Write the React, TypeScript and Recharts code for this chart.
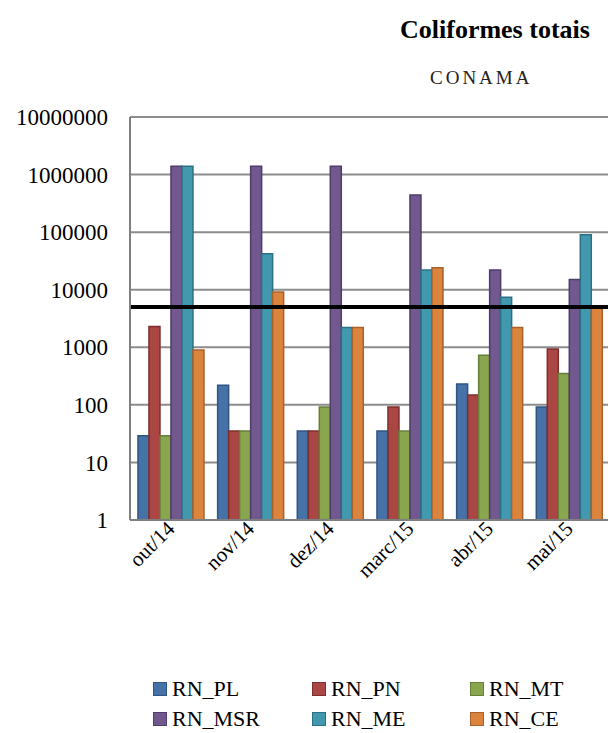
import { BarChart, Bar, XAxis, YAxis, CartesianGrid, ReferenceLine, Legend } from "recharts";

const months = ["out/14", "nov/14", "dez/14", "marc/15", "abr/15", "mai/15"];
const rnPL = [29, 220, 35, 35, 230, 92];
const rnPN = [2300, 35, 35, 92, 148, 930];
const rnMT = [29, 35, 92, 35, 730, 350];
const rnMSR = [1400000, 1400000, 1400000, 440000, 22000, 15000];
const rnME = [1400000, 42000, 2200, 22000, 7400, 90000];
const rnCE = [900, 9100, 2200, 24000, 2200, 4900];
const conamaLimit = 5000;
const yTicks = [1, 10, 100, 1000, 10000, 100000, 1000000, 10000000];

const series = [
  { key: "RN_PL", fill: "#4672A8", stroke: "#2F5583" },
  { key: "RN_PN", fill: "#AA4643", stroke: "#7E2F2D" },
  { key: "RN_MT", fill: "#89A54E", stroke: "#66803A" },
  { key: "RN_MSR", fill: "#71588F", stroke: "#4F3D69" },
  { key: "RN_ME", fill: "#4198AF", stroke: "#2C7083" },
  { key: "RN_CE", fill: "#DB843D", stroke: "#A9612A" },
];

const data = months.map((m, i) => ({
  month: m,
  RN_PL: rnPL[i],
  RN_PN: rnPN[i],
  RN_MT: rnMT[i],
  RN_MSR: rnMSR[i],
  RN_ME: rnME[i],
  RN_CE: rnCE[i],
}));

const FONT = "'Liberation Serif', 'DejaVu Serif', serif";

const MonthTick = ({ x, y, payload }: any) => (
  <text
    x={x + 6}
    y={y + 2}
    transform={`rotate(-45, ${x + 6}, ${y + 2})`}
    textAnchor="end"
    fontFamily={FONT}
    fontSize={21}
    fill="#000"
  >
    {payload.value}
  </text>
);

const LegendBox = () => (
  <div
    style={{
      display: "grid",
      gridTemplateColumns: "159px 158px 140px",
      fontFamily: FONT,
      fontSize: 22,
      color: "#000",
      paddingLeft: 153,
    }}
  >
    {series.map((s) => (
      <div key={s.key} style={{ display: "flex", alignItems: "center", height: 30 }}>
        <span
          style={{
            width: 12,
            height: 12,
            background: s.fill,
            border: `1px solid ${s.stroke}`,
            marginRight: 5,
            display: "inline-block",
          }}
        />
        {s.key}
      </div>
    ))}
  </div>
);

export default function App() {
  return (
    <div style={{ position: "absolute", left: 0, top: 0, width: 609, height: 733, background: "#fff" }}>
      <div
        style={{
          position: "absolute",
          top: 15,
          left: 400,
          fontFamily: FONT,
          fontWeight: "bold",
          fontSize: 26,
          color: "#000",
        }}
      >
        Coliformes totais
      </div>
      <div
        style={{
          position: "absolute",
          top: 67,
          left: 430,
          fontFamily: FONT,
          fontSize: 19,
          letterSpacing: 3,
          color: "#222",
        }}
      >
        CONAMA
      </div>
      <BarChart
        width={609}
        height={733}
        data={data}
        margin={{ top: 117, right: 1, left: 0, bottom: 0 }}
        barCategoryGap="10%"
        barGap={0}
      >
        <CartesianGrid vertical={false} stroke="#8C8C8C" strokeWidth={2} />
        <XAxis
          dataKey="month"
          height={153}
          tick={<MonthTick />}
          tickLine={false}
          axisLine={{ stroke: "#7F7F7F", strokeWidth: 2 }}
          interval={0}
        />
        <XAxis xAxisId="top" orientation="top" dataKey="month" height={0} tick={false} tickLine={false} axisLine={{ stroke: "#000", strokeWidth: 2 }} />
        <YAxis
          scale="log"
          domain={[1, 10000000]}
          ticks={yTicks}
          allowDataOverflow
          width={130}
          tickLine={false}
          tickMargin={16}
          axisLine={{ stroke: "#7F7F7F", strokeWidth: 2 }}
          tick={{ fontFamily: FONT, fontSize: 23, fill: "#000" }}
        />
        <YAxis yAxisId="right" orientation="right" width={0} tick={false} tickLine={false} axisLine={{ stroke: "#000", strokeWidth: 2 }} />
        {series.map((s) => (
          <Bar key={s.key} dataKey={s.key} fill={s.fill} stroke={s.stroke} strokeWidth={1.5} isAnimationActive={false} />
        ))}
        <ReferenceLine y={conamaLimit} stroke="#000" strokeWidth={4} />
        <Legend
          verticalAlign="bottom"
          content={<LegendBox />}
          wrapperStyle={{ left: 0, top: 674, width: 609 }}
        />
      </BarChart>
    </div>
  );
}
